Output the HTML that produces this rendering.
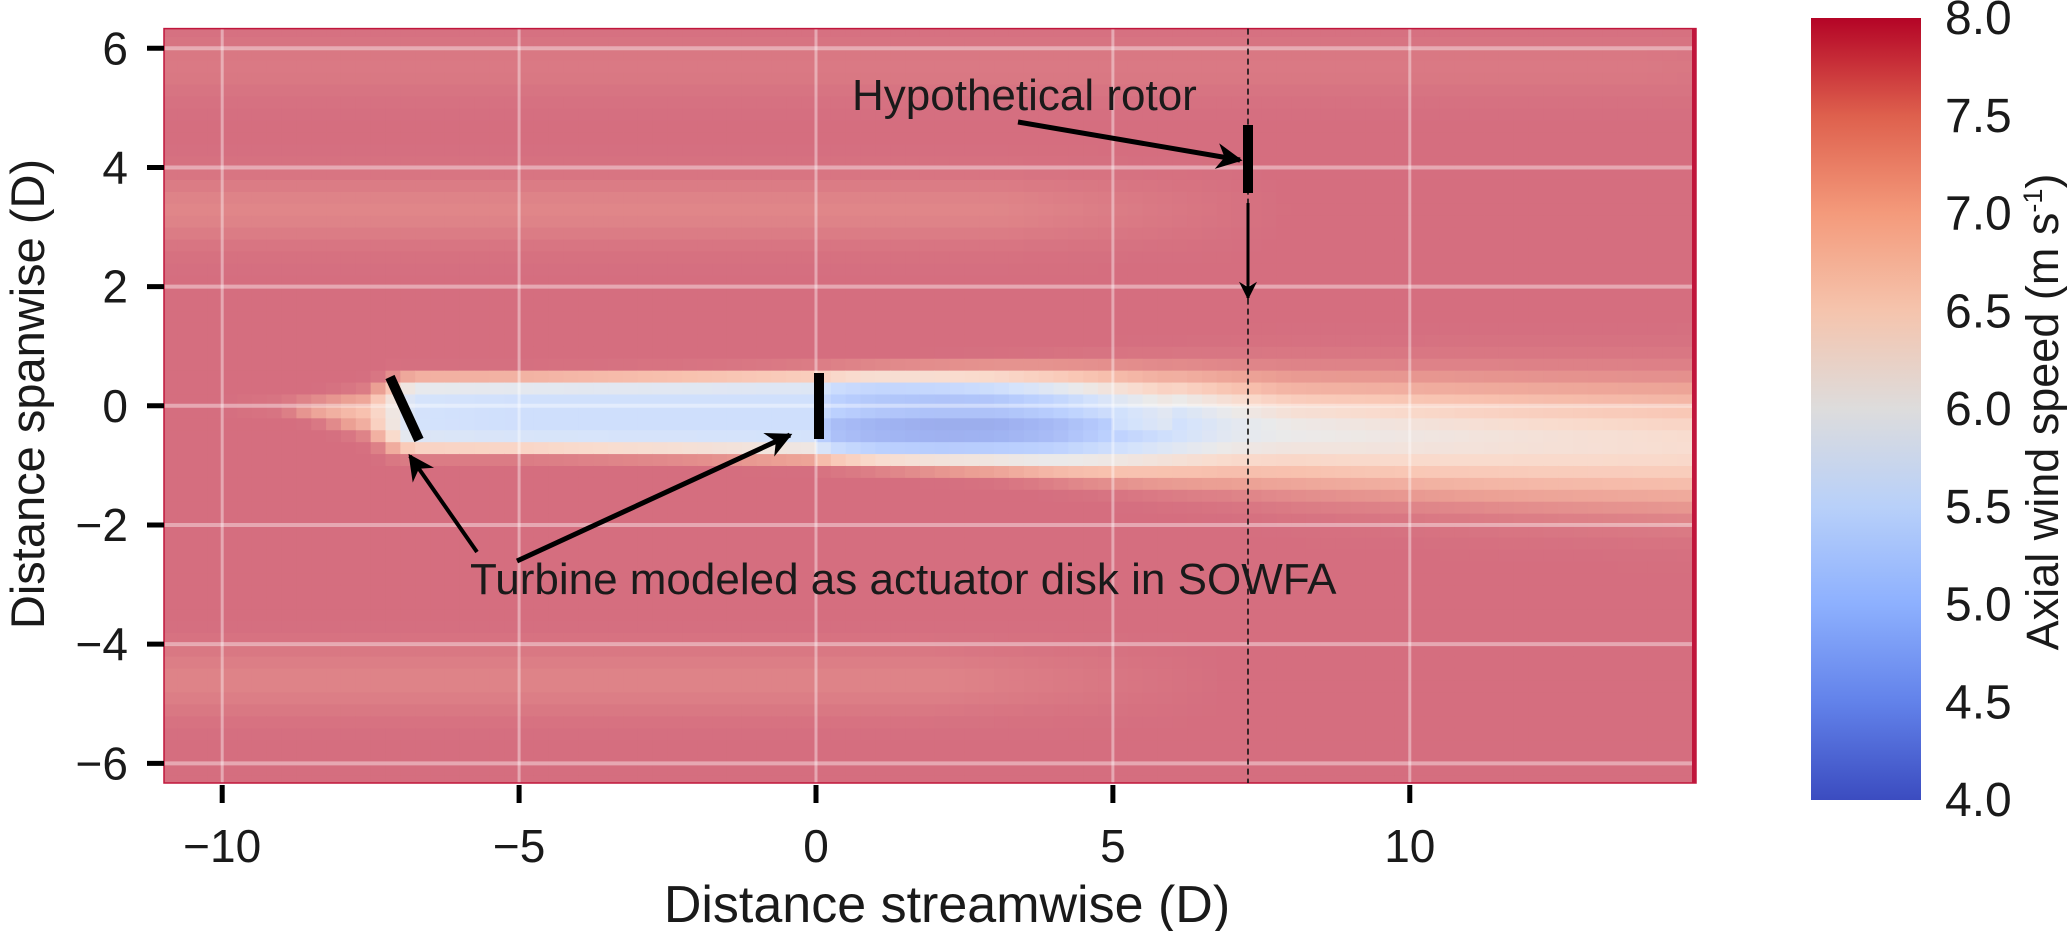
<!DOCTYPE html>
<html><head><meta charset="utf-8">
<style>
html,body{margin:0;padding:0;background:#fff;width:2067px;height:931px;overflow:hidden}
svg{display:block}
text{font-family:"Liberation Sans",Arial,sans-serif;fill:#1a1a1a}
</style></head>
<body>
<svg id="chart" width="2067" height="931" viewBox="0 0 2067 931" xmlns="http://www.w3.org/2000/svg">
  <defs>
    <clipPath id="plotclip"><rect x="164" y="28.6" width="1532" height="754.4"/></clipPath>
    <linearGradient id="cbgrad" x1="0" y1="1" x2="0" y2="0">
      <stop offset="0" stop-color="rgb(59,76,192)"/>
      <stop offset="0.125" stop-color="rgb(98,130,234)"/>
      <stop offset="0.25" stop-color="rgb(141,176,254)"/>
      <stop offset="0.375" stop-color="rgb(184,208,249)"/>
      <stop offset="0.5" stop-color="rgb(221,220,220)"/>
      <stop offset="0.625" stop-color="rgb(245,196,173)"/>
      <stop offset="0.75" stop-color="rgb(244,154,123)"/>
      <stop offset="0.875" stop-color="rgb(222,96,77)"/>
      <stop offset="1" stop-color="rgb(180,4,38)"/>
    </linearGradient>
    <marker id="ah" viewBox="0 0 10 10" refX="9" refY="5" markerWidth="34" markerHeight="26" orient="auto" markerUnits="userSpaceOnUse">
      <path d="M0,0 L10,5 L0,10 L3,5 z" fill="#000"/>
    </marker>
    <marker id="ahs" viewBox="0 0 10 10" refX="9" refY="5" markerWidth="26" markerHeight="18" orient="auto" markerUnits="userSpaceOnUse">
      <path d="M0,0 L10,5 L0,10 L3,5 z" fill="#000"/>
    </marker>
  </defs>
  <g id="cells" clip-path="url(#plotclip)"></g>
  <g id="grid"></g>
  <rect x="164" y="28.6" width="1532" height="754.4" fill="none" stroke="#c0163c" stroke-width="1.5"/>
  <line x1="1694" y1="28.6" x2="1694" y2="783" stroke="#c0163c" stroke-width="4"/>
  <g id="axes"></g>

  <line x1="1248" y1="28.6" x2="1248" y2="783" stroke="#111" stroke-width="1.6" stroke-dasharray="6,4"/>
  <line x1="390" y1="377" x2="419" y2="440" stroke="#000" stroke-width="10"/>
  <line x1="819" y1="373" x2="819" y2="439" stroke="#000" stroke-width="10"/>
  <line x1="1248" y1="125" x2="1248" y2="193" stroke="#000" stroke-width="10"/>

  <text x="852" y="110" font-size="44">Hypothetical rotor</text>
  <line x1="1018" y1="122" x2="1240" y2="160" stroke="#000" stroke-width="5" marker-end="url(#ah)"/>
  <line x1="1248" y1="203" x2="1248" y2="298" stroke="#000" stroke-width="3" marker-end="url(#ahs)"/>
  <text x="470" y="594" font-size="44">Turbine modeled as actuator disk in SOWFA</text>
  <line x1="477" y1="552" x2="410" y2="456" stroke="#000" stroke-width="4" marker-end="url(#ah)"/>
  <line x1="517" y1="561" x2="790" y2="435" stroke="#000" stroke-width="5" marker-end="url(#ah)"/>

  <text x="947" y="922" font-size="52" text-anchor="middle">Distance streamwise (D)</text>
  <text transform="translate(44,394) rotate(-90)" font-size="47" text-anchor="middle">Distance spanwise (D)</text>

  <rect x="1811" y="18" width="110" height="782" fill="url(#cbgrad)"/>
  <g id="cbticks"></g>
  <text transform="translate(2058,412) rotate(-90)" font-size="45" text-anchor="middle">Axial wind speed (m s<tspan font-size="27" dy="-16">-1</tspan><tspan dy="16">)</tspan></text>
</svg>
<script>
// ---- data ----
const xTicks = [-10, -5, 0, 5, 10];
const yTicks = [6, 4, 2, 0, -2, -4, -6];
const cbTicks = [4.0, 4.5, 5.0, 5.5, 6.0, 6.5, 7.0, 7.5, 8.0];
const wakeKeyX = [-9,-7.6,-7.2,-6.8,-5,-2,-0.1,0.2,1,2,3,4,5,6,7,8,10,12,14.8];
const wakeTop  = [0.15,0.4,0.6,0.62,0.62,0.66,0.7,0.7,0.72,0.74,0.76,0.78,0.8,0.82,0.84,0.86,0.88,0.9,0.92];
const wakeBot  = [-0.15,-0.65,-0.9,-0.9,-0.9,-0.95,-1.0,-1.05,-1.1,-1.15,-1.2,-1.3,-1.4,-1.5,-1.6,-1.75,-1.9,-2.05,-2.2];
const wakeMin  = [7.7,7.0,6.3,5.5,5.4,5.4,5.4,4.7,4.5,4.4,4.4,4.6,5.0,5.4,5.8,6.0,6.15,6.3,6.45];
const wakeSharp= [2,2,3,5,5,5,5,5,5,4.5,4,3.5,3,2.6,2.3,2,2,2,2];
const freeStream = 7.95;
const bandY   = [3.3, -4.6, 5.7];
const bandAmp = [0.22, 0.2, 0.1];
const bandXEnd= [3, 2, 14];
const xDomain = [-10.98, 14.82];
const yDomain = [-6.33, 6.33];
const cDomain = [4, 8];

// ---- scales ----
const PL=164, PR=1696, PT=28.6, PB=783;
const sx = v => PL + (v - xDomain[0]) / (xDomain[1]-xDomain[0]) * (PR-PL);
const sy = v => PB - (v - yDomain[0]) / (yDomain[1]-yDomain[0]) * (PB-PT);
const cy = v => 800 - (v - cDomain[0]) / (cDomain[1]-cDomain[0]) * 782;
const NS='http://www.w3.org/2000/svg';

const stops=[[59,76,192],[98,130,234],[141,176,254],[184,208,249],[221,220,220],[245,196,173],[244,154,123],[222,96,77],[180,4,38]];
function cmap(v,alpha){
  let t=Math.max(0,Math.min(1,(v-cDomain[0])/(cDomain[1]-cDomain[0])))*8;
  let i=Math.min(7,Math.floor(t)), f=t-i;
  const c=[0,1,2].map(k=>stops[i][k]+(stops[i+1][k]-stops[i][k])*f);
  return 'rgb('+c.map(k=>Math.round(k*alpha+255*(1-alpha))).join(',')+')';
}
function at(arr,x){
  if(x<=wakeKeyX[0])return arr[0];
  for(let i=0;i<wakeKeyX.length-1;i++){
    if(x<=wakeKeyX[i+1]){const f=(x-wakeKeyX[i])/(wakeKeyX[i+1]-wakeKeyX[i]);return arr[i]+(arr[i+1]-arr[i])*f;}
  }
  return arr[arr.length-1];
}
function speed(x,y){
  let bg=freeStream;
  for(let b=0;b<bandY.length;b++){
    const fade = x<bandXEnd[b]?1:Math.max(0,1-(x-bandXEnd[b])/5);
    bg -= bandAmp[b]*Math.exp(-Math.pow((y-bandY[b])/0.55,2))*fade;
  }
  if(x<wakeKeyX[0]-1) return bg;
  const top=at(wakeTop,x), bot=at(wakeBot,x);
  const c=(top+bot)/2, hw=(top-bot)/2;
  const t=Math.abs(y-c)/hw;
  const p=at(wakeSharp,x);
  let f=Math.exp(-3*Math.pow(t,p));
  if(x<wakeKeyX[0]) f*=Math.max(0,1-(wakeKeyX[0]-x));
  let mn=at(wakeMin,x);
  if(x>0.1&&x<6) mn += 0.35*(y>c?1:0)*Math.exp(-Math.pow(t,2));
  return bg-(bg-mn)*f;
}

const cells=document.getElementById('cells');
const dx=0.25, dy=0.2;
for(let x=-11; x<14.85; x+=dx){
  for(let y=-6.4; y<6.4; y+=dy){
    const r=document.createElementNS(NS,'rect');
    
    
    const x0=sx(x), x1=sx(x+dx), y0=sy(y+dy), y1=sy(y);
    r.setAttribute('x',x0.toFixed(2)); r.setAttribute('y',y0.toFixed(2));
    r.setAttribute('width',(x1-x0+0.6).toFixed(2)); r.setAttribute('height',(y1-y0+0.6).toFixed(2));
    r.setAttribute('fill',cmap(speed(x+dx/2,y+dy/2),0.6));
    cells.appendChild(r);
  }
}

const grid=document.getElementById('grid'), axes=document.getElementById('axes');
function line(parent,x1,y1,x2,y2,stroke,w,name){
  const l=document.createElementNS(NS,'line');
  
  
  l.setAttribute('x1',x1);l.setAttribute('y1',y1);l.setAttribute('x2',x2);l.setAttribute('y2',y2);
  l.setAttribute('stroke',stroke);l.setAttribute('stroke-width',w);
  parent.appendChild(l);return l;
}
function text(parent,x,y,s,size,anchor,name){
  const t=document.createElementNS(NS,'text');
  
  
  t.setAttribute('x',x);t.setAttribute('y',y);t.setAttribute('font-size',size);t.setAttribute('text-anchor',anchor);
  t.textContent=s;parent.appendChild(t);return t;
}
xTicks.forEach(v=>{
  const X=sx(v);
  line(grid,X,PT,X,PB,'rgba(255,255,255,0.4)',3,'x-grid-line');
  line(axes,X,PB+2,X,PB+20,'#000',5,'x-tick');
  text(axes,X,862,String(v).replace('-','\u2212'),46,'middle','x-tick-label');
});
yTicks.forEach(v=>{
  const Y=sy(v);
  line(grid,PL,Y,PR,Y,'rgba(255,255,255,0.4)',4,'y-grid-line');
  line(axes,147,Y,164,Y,'#000',5,'y-tick');
  text(axes,128,Y+16,String(v).replace('-','\u2212'),46,'end','y-tick-label');
});
const cbt=document.getElementById('cbticks');
cbTicks.forEach(v=>{
  text(cbt,1945,cy(v)+16,v.toFixed(1),48,'start','colorbar-tick-label');
});
</script>
</body></html>
